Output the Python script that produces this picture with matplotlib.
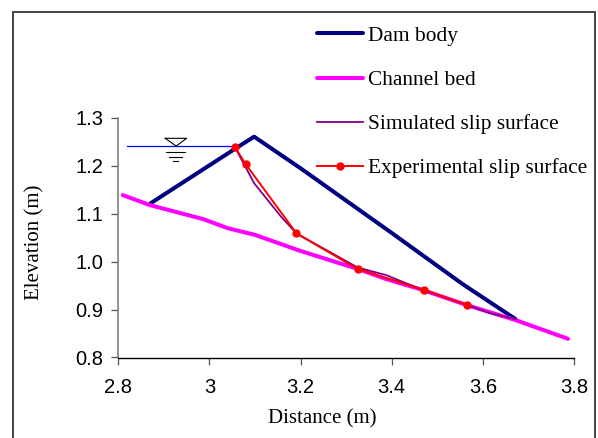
import matplotlib
matplotlib.use('Agg')
import matplotlib.pyplot as plt
from matplotlib.patches import Rectangle

damX = [2.871, 3.055, 3.098, 3.2, 3.4, 3.556, 3.672]
damY = [1.122, 1.235, 1.261, 1.195, 1.06, 0.953, 0.88]

bedX = [2.81, 2.87, 2.986, 3.04, 3.10, 3.198, 3.325, 3.387, 3.468, 3.563, 3.672, 3.787]
bedY = [1.139, 1.118, 1.089, 1.07, 1.056, 1.023, 0.985, 0.964, 0.941, 0.91, 0.878, 0.839]

simX = [3.056, 3.098, 3.158, 3.191, 3.325, 3.388, 3.47, 3.565, 3.614, 3.672]
simY = [1.239, 1.164, 1.093, 1.059, 0.988, 0.972, 0.94, 0.91, 0.893, 0.88]

expX = [3.056, 3.08, 3.191, 3.325, 3.47, 3.565]
expY = [1.239, 1.203, 1.059, 0.985, 0.941, 0.91]

# water level and its symbol
waterX = [2.82, 3.056]
waterY = [1.241, 1.241]
triX = [2.903, 2.95, 2.927, 2.903]
triY = [1.2576, 1.2576, 1.2415, 1.2576]
dashes = [(2.904, 2.946, 1.229), (2.911, 2.939, 1.2195), (2.92, 2.931, 1.211)]

xTicks = [2.8, 3, 3.2, 3.4, 3.6, 3.8]
xLabels = ['2.8', '3', '3.2', '3.4', '3.6', '3.8']
yTicks = [0.8, 0.9, 1.0, 1.1, 1.2, 1.3]

W, H = 598, 438
fig = plt.figure(figsize=(W / 100, H / 100), dpi=100)
ax = fig.add_axes([118.3 / W, 1 - 357.5 / H, (574 - 118.3) / W, (357.5 - 118) / H])

# outer frame runs past the bottom of the image
fig.add_artist(Rectangle((13 / W, -0.05), 582 / W, 1 - 11.5 / H + 0.05, transform=fig.transFigure,
                         fill=False, edgecolor='#444444', lw=1.4))

ax.plot(damX, damY, color='#000080', lw=2.9, solid_capstyle='round', label='Dam body')
ax.plot(bedX, bedY, color='#ff00ff', lw=2.9, solid_capstyle='round', label='Channel bed')
ax.plot(simX, simY, color='#800080', lw=1.3, label='Simulated slip surface')
ax.plot(expX, expY, color='#ff0000', lw=1.4, marker='o', ms=5, label='Experimental slip surface')

ax.plot(waterX, waterY, color='#0000ff', lw=0.9, zorder=1)
ax.plot(triX, triY, color='black', lw=0.8)
for x0, x1, y in dashes:
    ax.plot([x0, x1], [y, y], color='black', lw=0.8)

ax.set_xlim(2.8, 3.8)
ax.set_ylim(0.8, 1.3)
ax.set_xticks(xTicks)
ax.set_xticklabels(xLabels, fontfamily='Liberation Sans', fontsize=14.5)
ax.set_yticks(yTicks)
ax.set_yticklabels(['%.1f' % v for v in yTicks], fontfamily='Liberation Sans', fontsize=14.5)
ax.tick_params(axis='x', length=5, width=0.9, color='#555555', pad=10)
ax.tick_params(axis='y', length=5, width=0.9, color='#555555', pad=6)

ax.spines['top'].set_visible(False)
ax.spines['right'].set_visible(False)
ax.spines['left'].set_color('#808080')
ax.spines['left'].set_linewidth(1.2)
ax.spines['bottom'].set_color('black')
ax.spines['bottom'].set_linewidth(1.0)

ax.set_xlabel('Distance (m)', fontfamily='Liberation Serif', fontsize=15)
ax.set_ylabel('Elevation (m)', fontfamily='Liberation Serif', fontsize=15)
ax.xaxis.set_label_coords(0.447, -0.215)
ax.yaxis.set_label_coords(-0.163, 0.482)

ax.legend(loc='upper left', bbox_to_anchor=(317 / W, 1 - 26 / H), bbox_transform=fig.transFigure,
          frameon=False, prop={'family': 'Liberation Serif', 'size': 15.4},
          handlelength=2.15, handletextpad=0.23, labelspacing=1.13, borderpad=0, borderaxespad=0)

fig.savefig('out.png', dpi=100)
